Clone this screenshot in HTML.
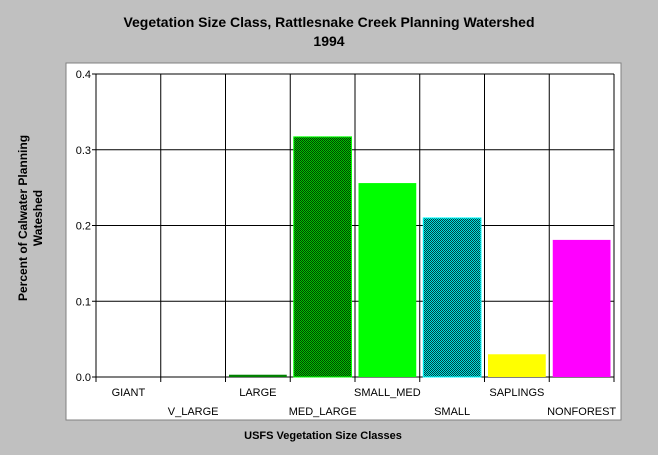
<!DOCTYPE html>
<html><head><meta charset="utf-8"><style>
body{margin:0;background:#c0c0c0;}
svg{display:block;font-family:"Liberation Sans",Arial,sans-serif;}
</style></head><body>
<svg width="658" height="455" viewBox="0 0 658 455">
<defs>
<pattern id="chkGreen" width="2" height="2" patternUnits="userSpaceOnUse"><rect width="2" height="2" fill="#00c000"/><rect width="1" height="1" fill="#004000"/><rect x="1" y="1" width="1" height="1" fill="#004000"/></pattern>
<pattern id="chkCyan" width="2" height="2" patternUnits="userSpaceOnUse"><rect width="2" height="2" fill="#00e0e0"/><rect width="1" height="1" fill="#004040"/><rect x="1" y="1" width="1" height="1" fill="#004040"/></pattern>
</defs>
<rect width="658" height="455" fill="#c0c0c0"/>
<text x="329" y="27" text-anchor="middle" font-size="14" font-weight="bold">Vegetation Size Class, Rattlesnake Creek Planning Watershed</text>
<text x="329" y="46" text-anchor="middle" font-size="14" font-weight="bold">1994</text>
<rect x="66" y="63" width="555" height="357" fill="#fff" stroke="#808080" stroke-width="1"/>
<g id="grid"></g>
<g id="bars"></g>
<g id="labels"></g>
<text transform="translate(32,218) rotate(-90)" text-anchor="middle" font-size="12" font-weight="bold"><tspan x="0" y="-5">Percent of Calwater Planning</tspan><tspan x="0" y="10">Wateshed</tspan></text>
<text x="323" y="439" text-anchor="middle" font-size="11" font-weight="bold">USFS Vegetation Size Classes</text>
</svg>
<script>
const categories = ["GIANT","V_LARGE","LARGE","MED_LARGE","SMALL_MED","SMALL","SAPLINGS","NONFOREST"];
const values = [0, 0, 0.003, 0.317, 0.256, 0.21, 0.030, 0.181];
const yTicks = [0, 0.1, 0.2, 0.3, 0.4];
const yTickLabels = ["0.0","0.1","0.2","0.3","0.4"];
const fills = ["#008000","#008000","#008000","url(#chkGreen)","#00ff00","url(#chkCyan)","#ffff00","#ff00ff"];
const strokes = ["none","none","none","#00ff00","none","#00ffff","none","none"];
const NS="http://www.w3.org/2000/svg";
const X0=96, X1=614, Y0=377, Y1=74, YMAX=0.4;
const cw=(X1-X0)/categories.length;
const y=v=>Y0-(v/YMAX)*(Y0-Y1);
const x=i=>X0+i*cw;
function mk(tag,attrs,parent){const e=document.createElementNS(NS,tag);for(const k in attrs)e.setAttribute(k,attrs[k]);parent.appendChild(e);return e;}
const grid=document.getElementById('grid'), bars=document.getElementById('bars'), labels=document.getElementById('labels');
yTicks.forEach((t,i)=>{
  const l=mk('line',{x1:X0-4,x2:X1,y1:y(t),y2:y(t),stroke:'#000','stroke-width':1},grid);
  
  
  const tx=mk('text',{x:X0-5,y:y(t)+4,'text-anchor':'end','font-size':11},labels);
  tx.textContent=yTickLabels[i];
  
  
});
for(let i=0;i<=categories.length;i++){
  const l=mk('line',{x1:x(i),x2:x(i),y1:Y1,y2:Y0+5,stroke:'#000','stroke-width':1},grid);
  
  
}
categories.forEach((c,i)=>{
  const v=values[i];
  if(v>0){
    const r=mk('rect',{x:x(i)+3.5,y:y(v),width:cw-7,height:Y0-y(v),fill:fills[i],stroke:strokes[i],'stroke-width':1},bars);
    
    
  }
  const t=mk('text',{x:x(i)+cw/2,y:(i%2===0)?396:415,'text-anchor':'middle','font-size':11},labels);
  t.textContent=c;
  
  
});
</script>
</body></html>
